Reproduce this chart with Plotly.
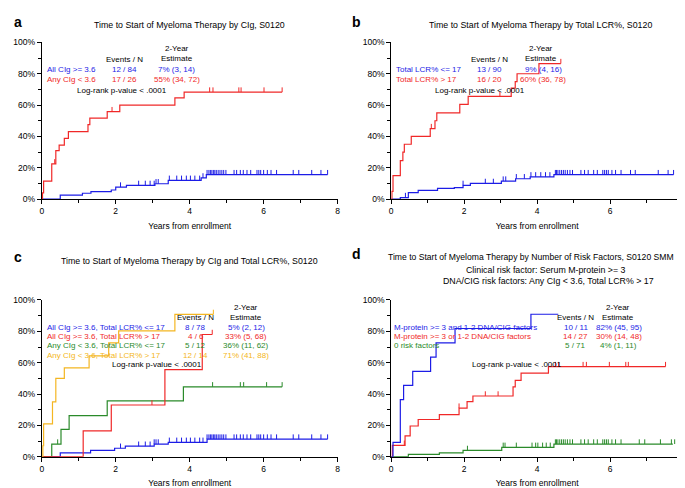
import numpy as np
import plotly.graph_objects as go

# ---- data (time in years, cumulative % started therapy) ----
# panel a: by CIg
a_blue_t = [0, 0.5, 1.1, 1.33, 1.88, 2.0, 2.29, 3.06, 3.42, 4.31, 4.45, 7.73]
a_blue_p = [0, 2.5, 3.75, 4.8, 5.8, 7.7, 8.75, 9.8, 12.0, 13.5, 15.6, 15.6]
a_blue_cens = [2.13, 2.62, 2.8, 2.93, 3.04, 3.09, 3.15, 3.45, 3.65, 3.78, 3.91, 4.02, 4.14, 4.27, 4.36,
               4.47, 4.52, 4.56, 4.6, 4.64, 4.68, 4.72, 4.77, 4.82, 4.87, 4.92, 4.98,
               5.2, 5.27, 5.37, 5.45, 5.55, 5.65, 5.82, 5.87, 5.92, 6.0, 6.1, 6.2, 6.35,
               6.8, 6.95, 7.3, 7.55, 7.73]
a_red_t = [0, 0.02, 0.05, 0.27, 0.38, 0.47, 0.61, 0.72, 1.25, 1.3, 1.77, 2.11, 3.6, 3.85, 6.5]
a_red_p = [0, 4, 11.5, 22.5, 31, 34.4, 38.7, 43, 47.5, 51.7, 55.8, 60, 64.6, 68.3, 68.3]
a_red_cens = [0.35, 1.9, 4.54, 4.63, 5.33, 5.39, 6.01, 6.5]

# panel b: by total LCR%
b_blue_t = [0, 0.25, 0.47, 0.74, 1.27, 1.73, 1.97, 2.17, 3.02, 3.41, 3.81, 4.46, 7.74]
b_blue_p = [0, 1, 4.2, 5.6, 6.9, 7.3, 8.75, 10, 11.5, 13, 14.2, 15.6, 15.6]
b_blue_cens = [0.39, 1.97, 2.58, 2.8, 3.07, 3.14, 3.43, 3.65, 3.83, 3.96, 4.1, 4.23, 4.35,
               4.5, 4.53, 4.57, 4.62, 4.67, 4.72, 4.77, 4.83, 4.9, 4.97,
               5.2, 5.3, 5.4, 5.55, 5.65, 5.8, 5.85, 5.9, 5.95, 6.05, 6.15, 6.3,
               6.56, 6.69, 7.32, 7.59, 7.74]
b_red_t = [0, 0.02, 0.05, 0.25, 0.32, 0.36, 0.55, 1.07, 1.2, 1.25, 1.88, 2.11, 3.29, 3.4, 3.45, 4.05, 4.65]
b_red_p = [0, 5, 15, 24.6, 30, 35, 40, 45, 50, 55, 60.4, 65.6, 70.8, 75, 80, 86.5, 86.5]
b_red_cens = [1.1, 2.98, 4.65]

# panel c: by CIg and total LCR%
c_blue_t = [0, 0.5, 1.32, 1.97, 2.26, 3.04, 3.42, 4.47, 7.73]
c_blue_p = [0, 2.5, 4, 5.4, 6.7, 8.1, 9.2, 11.25, 11.25]
c_blue_cens = a_blue_cens
c_red_t = [0, 1.12, 1.88, 3.33, 4.34, 4.61]
c_red_p = [0, 16.5, 33, 55.6, 78, 78]
c_red_cens = [2.98, 4.61]
c_green_t = [0, 0.27, 0.52, 0.74, 1.77, 3.83, 6.5]
c_green_p = [0, 8.1, 17.5, 26.25, 35.6, 44.6, 44.6]
c_green_cens = [0.43, 4.62, 5.37, 5.46, 6.08, 6.5]
c_yellow_t = [0, 0.03, 0.05, 0.29, 0.38, 0.61, 1.28, 1.81, 2.08, 3.6, 4.64]
c_yellow_p = [0, 7, 21, 35, 50, 56.7, 64.4, 72.7, 80.3, 90.8, 90.8]
c_yellow_cens = [4.64]

# panel d: by number of risk factors
d_blue_t = [0, 0.05, 0.25, 0.34, 0.59, 1.08, 1.23, 1.75, 3.83, 4.58]
d_blue_p = [0, 9.1, 36.4, 45.5, 54.5, 63.6, 72.7, 81.8, 90.9, 90.9]
d_red_t = [0, 0.03, 0.38, 0.52, 0.74, 1.32, 1.86, 2.08, 2.24, 3.34, 3.4, 3.56, 4.31, 7.52]
d_red_p = [0, 7.3, 13.3, 19.6, 23.75, 26.9, 31, 35.2, 38.75, 44.6, 48.75, 53.3, 57.5, 57.5]
d_red_cens = [0.36, 1.86, 2.58, 2.93, 4.5, 4.59, 5.26, 5.35, 5.98, 6.43, 6.5, 7.52]
d_green_t = [0, 0.47, 1.32, 1.97, 3.03, 4.46, 7.72]
d_green_p = [0, 1.5, 2.5, 4, 6, 8.1, 8.1]
d_green_cens = [2.09, 3.07, 3.12, 3.43, 3.86, 3.96, 4.02, 4.15, 4.25, 4.36,
                4.5, 4.53, 4.57, 4.62, 4.67, 4.72, 4.77, 4.83, 4.9, 4.97,
                5.2, 5.3, 5.4, 5.55, 5.65, 5.8, 5.85, 5.9, 5.95, 6.05, 6.15, 6.3,
                6.8, 6.95, 7.38, 7.68, 7.77]

x_ticks = [0, 2, 4, 6, 8]
y_ticks = [0, 20, 40, 60, 80, 100]
y_labels = ['0%', '20%', '40%', '60%', '80%', '100%']

BLUE = '#1c1ce6'
RED = '#f02828'
GREEN = '#2a8a2a'
YELLOW = '#f4b622'
FONT = 'Liberation Sans, Arial, sans-serif'

W, H = 685, 488


def px(x, y):
    return x / W, 1 - y / H


def level_at(t, p, c):
    i = np.searchsorted(np.array(t), c, side='right') - 1
    return p[max(i, 0)]


fig = go.Figure()


def add_curve(n, t, p, cens, color):
    xa, ya = ('x', 'y') if n == 1 else (f'x{n}', f'y{n}')
    fig.add_trace(go.Scatter(x=t, y=p, mode='lines', line=dict(color=color, width=1.2, shape='hv'),
                             xaxis=xa, yaxis=ya, showlegend=False, cliponaxis=False, hoverinfo='skip'))
    if cens:
        cy = [level_at(t, p, c) for c in cens]
        fig.add_trace(go.Scatter(x=cens, y=cy, mode='markers', marker=dict(size=0.1, color=color),
                                 error_y=dict(type='data', symmetric=False, array=[3] * len(cens),
                                              arrayminus=[0] * len(cens), color=color, thickness=1, width=0),
                                 xaxis=xa, yaxis=ya, showlegend=False, cliponaxis=False, hoverinfo='skip'))


add_curve(1, a_blue_t, a_blue_p, a_blue_cens, BLUE)
add_curve(1, a_red_t, a_red_p, a_red_cens, RED)
add_curve(2, b_blue_t, b_blue_p, b_blue_cens, BLUE)
add_curve(2, b_red_t, b_red_p, b_red_cens, RED)
add_curve(3, c_blue_t, c_blue_p, c_blue_cens, BLUE)
add_curve(3, c_green_t, c_green_p, c_green_cens, GREEN)
add_curve(3, c_red_t, c_red_p, c_red_cens, RED)
add_curve(3, c_yellow_t, c_yellow_p, c_yellow_cens, YELLOW)
add_curve(4, d_green_t, d_green_p, d_green_cens, GREEN)
add_curve(4, d_red_t, d_red_p, d_red_cens, RED)
add_curve(4, d_blue_t, d_blue_p, [], BLUE)

# panel boxes in pixels: (left, right, top, bottom)
boxes = {1: (32, 330, 30, 190), 2: (384, 678, 30, 190), 3: (32, 330, 293, 453), 4: (384, 678, 293, 453)}

axis_common = dict(showline=True, linecolor='black', linewidth=1, ticks='outside', ticklen=4,
                   tickcolor='black', showgrid=False, zeroline=False,
                   tickfont=dict(family=FONT, size=8.5, color='black'))
layout = {}
for n, (l, r, t, b) in boxes.items():
    sx = '' if n == 1 else str(n)
    layout['xaxis' + sx] = dict(axis_common, domain=[l / W, r / W], range=[0, 8], tickvals=x_ticks,
                                minor=dict(ticks='outside', ticklen=3, dtick=1, tickcolor='black'),
                                anchor='y' + sx,
                                title=dict(text='Years from enrollment', font=dict(family=FONT, size=8.5, color='black'),
                                           standoff=7))
    layout['yaxis' + sx] = dict(axis_common, domain=[1 - b / H, 1 - t / H], range=[0, 100],
                                tickmode='array', tickvals=y_ticks, ticktext=y_labels,
                                minor=dict(ticks='outside', ticklen=3, dtick=10, tickcolor='black'),
                                anchor='x' + sx)

fig.update_layout(**layout)

ann = []


def text(s, x, y, color='black', size=8, anchor='center', bold=False):
    xp, yp = px(x, y)
    if bold:
        s = f'<b>{s}</b>'
    ann.append(dict(text=s, x=xp, y=yp, xref='paper', yref='paper', xanchor=anchor, yanchor='middle',
                    showarrow=False, font=dict(family=FONT, size=size, color=color)))


# panel letters and titles
text('a', 2, 9, size=14, anchor='left', bold=True)
text('b', 343, 9, size=14, anchor='left', bold=True)
text('c', 2, 249, size=14, anchor='left', bold=True)
text('d', 343, 246, size=14, anchor='left', bold=True)
text('Time to Start of Myeloma Therapy by CIg, S0120', 181, 12, size=8.8)
text('Time to Start of Myeloma Therapy by Total LCR%, S0120', 534, 12, size=8.8)
text('Time to Start of Myeloma Therapy by CIg and Total LCR%, S0120', 181, 253, size=8.8)
text('Time to Start of Myeloma Therapy by Number of Risk Factors, S0120 SMM', 525, 249, size=8.6)
text('Clinical risk factor: Serum M-protein >= 3', 539, 262, size=8.8)
text('DNA/CIG risk factors: Any CIg < 3.6, Total LCR% > 17', 542, 274, size=8.8)

# panel a table
text('2-Year', 168, 36)
text('Estimate', 168, 46)
text('Events / N', 115, 47)
text('All CIg >= 3.6', 35, 58, BLUE, anchor='left')
text('12 / 84', 115, 58, BLUE)
text('7% (3, 14)', 168, 58, BLUE)
text('Any CIg < 3.6', 35, 68, RED, anchor='left')
text('17 / 26', 115, 68, RED)
text('55% (34, 72)', 168, 68, RED)
text('Log-rank p-value < .0001', 113, 79)

# panel b table
text('2-Year', 535, 36)
text('Estimate', 535, 46)
text('Events / N', 483, 47)
text('Total LCR% <= 17', 387, 58, BLUE, anchor='left')
text('13 / 90', 483, 58, BLUE)
text('9% (4, 16)', 537, 58, BLUE)
text('Total LCR% > 17', 387, 68, RED, anchor='left')
text('16 / 20', 483, 68, RED)
text('60% (36, 78)', 537, 68, RED)
text('Log-rank p-value < .0001', 473, 79)

# panel c table
text('2-Year', 238, 301)
text('Estimate', 238, 311)
text('Events / N', 187, 311)
c_rows = [('All CIg >= 3.6, Total LCR% <= 17', '8 / 78', '5% (2, 12)', BLUE),
          ('All CIg >= 3.6, Total LCR% > 17', '4 / 6', '33% (5, 68)', RED),
          ('Any CIg < 3.6, Total LCR% <= 17', '5 / 12', '36% (11, 62)', GREEN),
          ('Any CIg < 3.6, Total LCR% > 17', '12 / 14', '71% (41, 88)', YELLOW)]
for i, (lab, n, est, col) in enumerate(c_rows):
    y = 321 + i * 9.4
    text(lab, 35, y, col, anchor='left')
    text(n, 187, y, col)
    text(est, 238, y, col)
text('Log-rank p-value < .0001', 148, 359)

# panel d table
text('2-Year', 612, 301)
text('Estimate', 612, 311)
text('Events / N', 570, 311)
d_rows = [('M-protein >= 3 and 1-2 DNA/CIG factors', '10 / 11', '82% (45, 95)', BLUE),
          ('M-protein >= 3 or 1-2 DNA/CIG factors', '14 / 27', '30% (14, 48)', RED),
          ('0 risk factors', '5 / 71', '4% (1, 11)', GREEN)]
for i, (lab, n, est, col) in enumerate(d_rows):
    y = 321 + i * 9.2
    text(lab, 385, y, col, anchor='left')
    text(n, 570, y, col)
    text(est, 613, y, col)
text('Log-rank p-value < .0001', 511, 359)

fig.update_layout(width=W, height=H, margin=dict(l=0, r=0, t=0, b=0), plot_bgcolor='white',
                  paper_bgcolor='white', annotations=ann, font=dict(family=FONT))

fig.write_html("out.html")
